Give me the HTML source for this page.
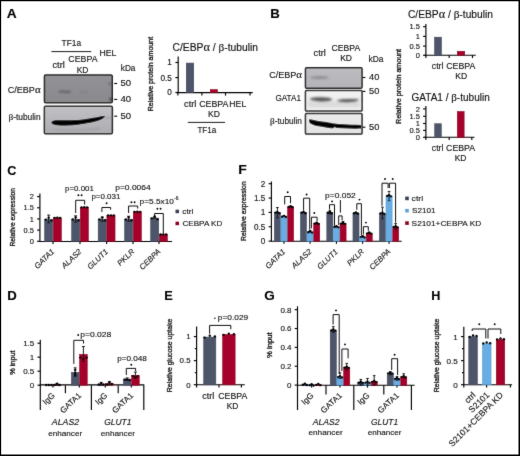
<!DOCTYPE html>
<html><head><meta charset="utf-8"><style>
html,body{margin:0;padding:0;background:#fff;}
svg{display:block;font-family:"Liberation Sans",sans-serif;opacity:0.999;}
text{stroke:#111;stroke-width:0.1px;}
text.yl{stroke-width:0.3px;}
</style></head><body>
<svg width="520" height="456" viewBox="0 0 520 456" fill="#0a0a0a">
<filter id="soft" x="0" y="0" width="520" height="456" filterUnits="userSpaceOnUse"><feConvolveMatrix order="3" kernelMatrix="0.015 0.06 0.015 0.06 0.7 0.06 0.015 0.06 0.015" preserveAlpha="false" edgeMode="none"/></filter>
<rect width="520" height="456" fill="#fff"/>
<g filter="url(#soft)">
<defs>
<filter id="b1" x="-50%" y="-50%" width="200%" height="200%"><feGaussianBlur stdDeviation="1.1"/></filter>
<filter id="b2" x="-20%" y="-50%" width="140%" height="200%"><feGaussianBlur stdDeviation="0.55"/></filter>
<filter id="b3" x="-20%" y="-50%" width="140%" height="200%"><feGaussianBlur stdDeviation="0.8"/></filter>
<linearGradient id="gA1" x1="0" y1="0" x2="0" y2="1"><stop offset="0" stop-color="#929296"/><stop offset="1" stop-color="#8a8a8e"/></linearGradient>
<linearGradient id="gA2" x1="0" y1="0" x2="0" y2="1"><stop offset="0" stop-color="#c1c1c5"/><stop offset="1" stop-color="#adadb1"/></linearGradient>
<linearGradient id="gB1" x1="0" y1="0" x2="0" y2="1"><stop offset="0" stop-color="#bcbcc0"/><stop offset="1" stop-color="#b4b4b8"/></linearGradient>
<linearGradient id="gB2" x1="0" y1="0" x2="0" y2="1"><stop offset="0" stop-color="#f4f4f4"/><stop offset="0.6" stop-color="#ececec"/><stop offset="1" stop-color="#f0f0f0"/></linearGradient>
<linearGradient id="gB3" x1="0" y1="0" x2="0" y2="1"><stop offset="0" stop-color="#ebebeb"/><stop offset="1" stop-color="#e2e2e2"/></linearGradient>
</defs>
<!-- Panel A blot 1 -->
<rect x="44.45" y="74.95" width="67.8" height="27.8" rx="1.3" fill="url(#gA1)" stroke="#262626" stroke-width="1.5"/>
<g filter="url(#b1)">
<ellipse cx="62" cy="91.7" rx="3.5" ry="1.1" fill="#606066"/><ellipse cx="67.5" cy="91.9" rx="3.5" ry="1.1" fill="#5e5e64"/>
<ellipse cx="84" cy="92" rx="5" ry="1" fill="#808084"/>
<ellipse cx="110" cy="83.6" rx="1.6" ry="0.9" fill="#4a4a4e"/>
<ellipse cx="110.8" cy="99.4" rx="1.3" ry="1.2" fill="#222"/>
</g>
<!-- Panel A blot 2 -->
<rect x="44.35" y="106.25" width="68" height="27.6" rx="1.3" fill="url(#gA2)" stroke="#262626" stroke-width="1.5"/>
<g filter="url(#b3)"><path d="M52,128.5 C65,130.5 85,130 100,127.5 L100,129 C85,131 65,131.5 52,129.5 Z" fill="#9a9a9e"/>
<path d="M104,117.4 L112,117.2 L112,118 L104,118.2 Z" fill="#8a8a8e"/></g>
<g filter="url(#b2)">
<path d="M51.5,122.6 C51.6,121.1 53.5,120.5 56,120.3 C59,120.1 63,120.2 66,120.3 C70,120.3 74,120.3 78,120 C82,119.7 85,119.3 88,118.8 C92,118.1 95,117.6 98,117 C100.5,116.5 102.8,116.1 104.9,116 C104.8,117.4 103,118.7 100,119.9 C96.5,121.2 92,122.3 88,123.1 C84,123.8 81,124.3 78,124.7 C74,125.2 70,125.5 66,125.5 C62,125.5 58.5,125.3 55.5,124.9 C53,124.5 51.4,123.9 51.5,122.6 Z" fill="#030303"/>
</g>
<!-- Panel B blots -->
<rect x="305.45" y="67.85" width="56.6" height="20.3" rx="1.1" fill="url(#gB1)" stroke="#262626" stroke-width="1.5"/>
<g filter="url(#b1)"><ellipse cx="319.5" cy="77.6" rx="9.5" ry="1.6" fill="#8e8e94"/></g>
<rect x="305.45" y="90.55" width="56.6" height="20.5" rx="1.1" fill="url(#gB2)" stroke="#262626" stroke-width="1.5"/>
<g filter="url(#b3)"><rect x="308" y="101.5" width="52" height="6" fill="#dcdcdc"/></g>
<g filter="url(#b3)"><path d="M309.5,98.8 C313,97.2 320,97 326,97.6 C329,98 331.5,98.6 332.5,99.6 C331,101.2 326,101.6 320,101.4 C315,101.1 311,100.5 309.5,98.8 Z" fill="#575757"/>
<path d="M336.8,100.4 C341,99 349,98.6 359,99.3 C358,101.5 353,102.3 346,102.2 C341,102 338,101.6 336.8,100.4 Z" fill="#575757"/></g>
<rect x="305.45" y="113.45" width="56.6" height="20.6" rx="1.1" fill="url(#gB3)" stroke="#262626" stroke-width="1.5"/>
<g filter="url(#b2)"><path d="M309,119.5 C311,119.4 313,119.8 317,120.7 C320,121.3 323,121.6 326,121.9 C329,122.4 332,123 334,123.4 C337,123.9 340,124.2 343,124.3 C348,124.6 354,124.8 361,125.1 L361,128.6 C356,128.9 350,128.7 343,128.3 L336.5,128 L334.8,127.1 L333,128.3 C330,128.1 328,127.8 326,127.4 C322,126.8 319,126.4 317,126 C314,125.4 311.5,124.3 310,123.2 C309.2,121.8 308.8,120.6 309,119.5 Z" fill="#040404"/></g>

<text x="6.88" y="18" font-size="12.3" font-weight="bold" textLength="9.93" lengthAdjust="spacingAndGlyphs" fill="#000">A</text>
<text x="61.58" y="46.1" font-size="8.5" textLength="19.45" lengthAdjust="spacingAndGlyphs">TF1a</text>
<line x1="51.4" y1="51.6" x2="91.2" y2="51.6" stroke="#000" stroke-width="0.9"/>
<text x="99.59" y="56" font-size="8.2" textLength="16.82" lengthAdjust="spacingAndGlyphs">HEL</text>
<text x="52.49" y="67.7" font-size="8.2" textLength="12.32" lengthAdjust="spacingAndGlyphs">ctrl</text>
<text x="68.39" y="62.2" font-size="8.2" textLength="29.12" lengthAdjust="spacingAndGlyphs">CEBPA</text>
<text x="76.69" y="72.5" font-size="8.2" textLength="11.72" lengthAdjust="spacingAndGlyphs">KD</text>
<text x="120.79" y="71.2" font-size="8.2" textLength="14.62" lengthAdjust="spacingAndGlyphs">kDa</text>
<text x="7.78" y="93.2" font-size="8.3" textLength="32.83" lengthAdjust="spacingAndGlyphs">C/EBP<tspan font-family="Liberation Serif" font-size="10">α</tspan></text>
<text x="8.48" y="119.5" font-size="8.3" textLength="32.13" lengthAdjust="spacingAndGlyphs"><tspan font-family="Liberation Serif" font-size="9.2">β</tspan>-tubulin</text>
<line x1="114.2" y1="83.5" x2="117.2" y2="83.5" stroke="#000" stroke-width="1.1"/>
<text x="120.49" y="86.4" font-size="8.2" textLength="10.62" lengthAdjust="spacingAndGlyphs">50</text>
<line x1="114.2" y1="99.4" x2="117.2" y2="99.4" stroke="#000" stroke-width="1.1"/>
<text x="120.49" y="102.3" font-size="8.2" textLength="10.62" lengthAdjust="spacingAndGlyphs">40</text>
<line x1="114.2" y1="116.2" x2="117.2" y2="116.2" stroke="#000" stroke-width="1.1"/>
<text x="120.49" y="119.1" font-size="8.2" textLength="10.62" lengthAdjust="spacingAndGlyphs">50</text>
<line x1="178.2" y1="56.4" x2="178.2" y2="92.8" stroke="#000" stroke-width="1.15"/>
<line x1="175.4" y1="62.5" x2="178.2" y2="62.5" stroke="#000" stroke-width="1.15"/>
<text x="171.8" y="65.45" font-size="8.2" text-anchor="end">1</text>
<line x1="175.4" y1="77.6" x2="178.2" y2="77.6" stroke="#000" stroke-width="1.15"/>
<text x="171.8" y="80.55" font-size="8.2" text-anchor="end">0.5</text>
<line x1="175.4" y1="92.5" x2="178.2" y2="92.5" stroke="#000" stroke-width="1.15"/>
<text x="171.8" y="95.45" font-size="8.2" text-anchor="end">0</text>
<line x1="176.5" y1="92.6" x2="252.7" y2="92.6" stroke="#000" stroke-width="1.2"/>
<line x1="177.9" y1="92.6" x2="177.9" y2="95.6" stroke="#000" stroke-width="1.15"/>
<line x1="201.9" y1="92.6" x2="201.9" y2="95.6" stroke="#000" stroke-width="1.15"/>
<line x1="225.5" y1="92.6" x2="225.5" y2="95.6" stroke="#000" stroke-width="1.15"/>
<line x1="250" y1="92.6" x2="250" y2="95.6" stroke="#000" stroke-width="1.15"/>
<rect x="186.25" y="63.05" width="7.5" height="29.55" fill="#4d556a" stroke="#3c4355" stroke-width="0.5"/>
<rect x="210.25" y="89.55" width="7.3" height="3.05" fill="#a6032c" stroke="#85001f" stroke-width="0.5"/>
<text x="184.09" y="106.5" font-size="8.2" textLength="12.32" lengthAdjust="spacingAndGlyphs">ctrl</text>
<text x="199.19" y="106.5" font-size="8.2" textLength="29.22" lengthAdjust="spacingAndGlyphs">CEBPA</text>
<text x="229.39" y="106.5" font-size="8.2" textLength="16.82" lengthAdjust="spacingAndGlyphs">HEL</text>
<text x="208.09" y="116.8" font-size="8.2" textLength="11.92" lengthAdjust="spacingAndGlyphs">KD</text>
<line x1="187.8" y1="122.4" x2="225" y2="122.4" stroke="#000" stroke-width="0.9"/>
<text x="197.38" y="132.7" font-size="8.5" textLength="18.85" lengthAdjust="spacingAndGlyphs">TF1a</text>
<text x="172.6" y="50.8" font-size="10" textLength="85.4" lengthAdjust="spacingAndGlyphs">C/EBP<tspan font-family="Liberation Serif" font-size="12">α</tspan> / <tspan font-family="Liberation Serif" font-size="11">β</tspan>-tubulin</text>
<text x="153.1" y="74.1" font-size="7.4" text-anchor="middle" transform="rotate(-90 153.1 74.1)" textLength="74.4" lengthAdjust="spacingAndGlyphs" class="yl">Relative protein amount</text>
<text x="270.28" y="17.8" font-size="12.3" font-weight="bold" textLength="9.53" lengthAdjust="spacingAndGlyphs" fill="#000">B</text>
<text x="313.59" y="56" font-size="8.2" textLength="12.22" lengthAdjust="spacingAndGlyphs">ctrl</text>
<text x="331.59" y="51.1" font-size="8.2" textLength="28.62" lengthAdjust="spacingAndGlyphs">CEBPA</text>
<text x="340.19" y="60.9" font-size="8.2" textLength="11.82" lengthAdjust="spacingAndGlyphs">KD</text>
<text x="368.59" y="62.2" font-size="8.2" textLength="14.92" lengthAdjust="spacingAndGlyphs">kDa</text>
<text x="269.19" y="77.6" font-size="8.3" textLength="32.83" lengthAdjust="spacingAndGlyphs">C/EBP<tspan font-family="Liberation Serif" font-size="10">α</tspan></text>
<text x="275.38" y="100.6" font-size="8.3" textLength="25.63" lengthAdjust="spacingAndGlyphs">GATA1</text>
<text x="269.98" y="124.1" font-size="8.3" textLength="32.03" lengthAdjust="spacingAndGlyphs"><tspan font-family="Liberation Serif" font-size="9.2">β</tspan>-tubulin</text>
<line x1="362.6" y1="77.5" x2="365.4" y2="77.5" stroke="#000" stroke-width="1.1"/>
<text x="368.99" y="80.4" font-size="8.2" textLength="10.32" lengthAdjust="spacingAndGlyphs">40</text>
<line x1="362.6" y1="91.4" x2="365.4" y2="91.4" stroke="#000" stroke-width="1.1"/>
<text x="368.99" y="94.3" font-size="8.2" textLength="10.32" lengthAdjust="spacingAndGlyphs">50</text>
<line x1="362.6" y1="127.2" x2="365.4" y2="127.2" stroke="#000" stroke-width="1.1"/>
<text x="368.99" y="130.1" font-size="8.2" textLength="10.32" lengthAdjust="spacingAndGlyphs">50</text>
<text x="407.9" y="18.2" font-size="10" textLength="85.1" lengthAdjust="spacingAndGlyphs">C/EBP<tspan font-family="Liberation Serif" font-size="12">α</tspan> / <tspan font-family="Liberation Serif" font-size="11">β</tspan>-tubulin</text>
<line x1="425.9" y1="24.1" x2="425.9" y2="55.5" stroke="#000" stroke-width="1.15"/>
<line x1="423.1" y1="26.7" x2="425.9" y2="26.7" stroke="#000" stroke-width="1.15"/>
<text x="419.9" y="29.4" font-size="7.5" text-anchor="end">1.5</text>
<line x1="423.1" y1="36.4" x2="425.9" y2="36.4" stroke="#000" stroke-width="1.15"/>
<text x="419.9" y="39.1" font-size="7.5" text-anchor="end">1</text>
<line x1="423.1" y1="46.1" x2="425.9" y2="46.1" stroke="#000" stroke-width="1.15"/>
<text x="419.9" y="48.8" font-size="7.5" text-anchor="end">0.5</text>
<line x1="423.1" y1="55.3" x2="425.9" y2="55.3" stroke="#000" stroke-width="1.15"/>
<text x="419.9" y="58" font-size="7.5" text-anchor="end">0</text>
<line x1="424.5" y1="55.3" x2="475.8" y2="55.3" stroke="#000" stroke-width="1.1"/>
<line x1="425.9" y1="55.3" x2="425.9" y2="58" stroke="#000" stroke-width="1.15"/>
<line x1="449.2" y1="55.3" x2="449.2" y2="58" stroke="#000" stroke-width="1.15"/>
<line x1="472.5" y1="55.3" x2="472.5" y2="58" stroke="#000" stroke-width="1.15"/>
<rect x="434.45" y="37.15" width="7.1" height="18.15" fill="#4d556a" stroke="#3c4355" stroke-width="0.5"/>
<rect x="457.25" y="51.25" width="7.5" height="4.05" fill="#a6032c" stroke="#85001f" stroke-width="0.5"/>
<text x="431.79" y="69.3" font-size="8.2" textLength="11.62" lengthAdjust="spacingAndGlyphs">ctrl</text>
<text x="446.29" y="69.3" font-size="8.2" textLength="29.12" lengthAdjust="spacingAndGlyphs">CEBPA</text>
<text x="455.19" y="79" font-size="8.2" textLength="11.92" lengthAdjust="spacingAndGlyphs">KD</text>
<text x="411.5" y="101" font-size="10" textLength="78.3" lengthAdjust="spacingAndGlyphs">GATA1 / <tspan font-family="Liberation Serif" font-size="11">β</tspan>-tubulin</text>
<line x1="425.9" y1="106.1" x2="425.9" y2="137.5" stroke="#000" stroke-width="1.15"/>
<line x1="423.1" y1="108.9" x2="425.9" y2="108.9" stroke="#000" stroke-width="1.15"/>
<text x="419.9" y="111.6" font-size="7.5" text-anchor="end">2</text>
<line x1="423.1" y1="116.3" x2="425.9" y2="116.3" stroke="#000" stroke-width="1.15"/>
<text x="419.9" y="119" font-size="7.5" text-anchor="end">1.5</text>
<line x1="423.1" y1="123.5" x2="425.9" y2="123.5" stroke="#000" stroke-width="1.15"/>
<text x="419.9" y="126.2" font-size="7.5" text-anchor="end">1</text>
<line x1="423.1" y1="130.4" x2="425.9" y2="130.4" stroke="#000" stroke-width="1.15"/>
<text x="419.9" y="133.1" font-size="7.5" text-anchor="end">0.5</text>
<line x1="423.1" y1="137.3" x2="425.9" y2="137.3" stroke="#000" stroke-width="1.15"/>
<text x="419.9" y="140" font-size="7.5" text-anchor="end">0</text>
<line x1="424.5" y1="137.3" x2="474.5" y2="137.3" stroke="#000" stroke-width="1.1"/>
<line x1="425.9" y1="137.3" x2="425.9" y2="140" stroke="#000" stroke-width="1.15"/>
<line x1="449.2" y1="137.3" x2="449.2" y2="140" stroke="#000" stroke-width="1.15"/>
<line x1="471.8" y1="137.3" x2="471.8" y2="140" stroke="#000" stroke-width="1.15"/>
<rect x="434.65" y="123.75" width="6.7" height="13.55" fill="#4d556a" stroke="#3c4355" stroke-width="0.5"/>
<rect x="457.25" y="111.45" width="6.9" height="25.85" fill="#a6032c" stroke="#85001f" stroke-width="0.5"/>
<text x="431.79" y="151.3" font-size="8.2" textLength="11.62" lengthAdjust="spacingAndGlyphs">ctrl</text>
<text x="446.09" y="151.3" font-size="8.2" textLength="29.02" lengthAdjust="spacingAndGlyphs">CEBPA</text>
<text x="454.69" y="161" font-size="8.2" textLength="11.72" lengthAdjust="spacingAndGlyphs">KD</text>
<text x="400.6" y="86.4" font-size="7.4" text-anchor="middle" transform="rotate(-90 400.6 86.4)" textLength="75" lengthAdjust="spacingAndGlyphs" class="yl">Relative protein amount</text>
<text x="7.29" y="174.8" font-size="12.3" font-weight="bold" textLength="9.13" lengthAdjust="spacingAndGlyphs" fill="#000">C</text>
<line x1="39.9" y1="193.5" x2="39.9" y2="241.6" stroke="#000" stroke-width="1.15"/>
<line x1="37.1" y1="241.3" x2="39.9" y2="241.3" stroke="#000" stroke-width="1.15"/>
<text x="33.9" y="243.96" font-size="7.4" text-anchor="end">0</text>
<line x1="37.1" y1="230.12" x2="39.9" y2="230.12" stroke="#000" stroke-width="1.15"/>
<text x="33.9" y="232.79" font-size="7.4" text-anchor="end">0.5</text>
<line x1="37.1" y1="218.95" x2="39.9" y2="218.95" stroke="#000" stroke-width="1.15"/>
<text x="33.9" y="221.61" font-size="7.4" text-anchor="end">1</text>
<line x1="37.1" y1="207.78" x2="39.9" y2="207.78" stroke="#000" stroke-width="1.15"/>
<text x="33.9" y="210.44" font-size="7.4" text-anchor="end">1.5</text>
<line x1="37.1" y1="196.6" x2="39.9" y2="196.6" stroke="#000" stroke-width="1.15"/>
<text x="33.9" y="199.26" font-size="7.4" text-anchor="end">2</text>
<line x1="39.5" y1="241.5" x2="172" y2="241.5" stroke="#000" stroke-width="1.1"/>
<text x="15.4" y="217.3" font-size="8.1" text-anchor="middle" transform="rotate(-90 15.4 217.3)" textLength="58.5" lengthAdjust="spacingAndGlyphs" class="yl">Relative expression</text>
<rect x="44.55" y="219.42" width="8.2" height="22.08" fill="#4d556a" stroke="#3c4355" stroke-width="0.5"/>
<rect x="53.25" y="217.86" width="8.2" height="23.64" fill="#a6032c" stroke="#85001f" stroke-width="0.5"/>
<line x1="48.65" y1="215.15" x2="48.65" y2="222.75" stroke="#111" stroke-width="0.95"/>
<line x1="47.15" y1="215.15" x2="50.15" y2="215.15" stroke="#111" stroke-width="0.95"/>
<line x1="47.15" y1="222.75" x2="50.15" y2="222.75" stroke="#111" stroke-width="0.95"/>
<circle cx="45.85" cy="219.67" r="1.2" fill="#000"/>
<circle cx="48.65" cy="217.67" r="1.2" fill="#000"/>
<circle cx="51.45" cy="220.67" r="1.2" fill="#000"/>
<circle cx="54.55" cy="217.91" r="1.2" fill="#000"/>
<circle cx="57.35" cy="217.81" r="1.2" fill="#000"/>
<circle cx="60.15" cy="217.91" r="1.2" fill="#000"/>
<line x1="53" y1="241.5" x2="53" y2="244" stroke="#000" stroke-width="1.15"/>
<text x="55" y="252.2" font-size="7.8" text-anchor="end" font-style="italic" transform="rotate(-44 55 252.2)">GATA1</text>
<rect x="71.55" y="219.2" width="8.2" height="22.3" fill="#4d556a" stroke="#3c4355" stroke-width="0.5"/>
<rect x="80.25" y="207.35" width="8.2" height="34.15" fill="#a6032c" stroke="#85001f" stroke-width="0.5"/>
<line x1="75.65" y1="215.82" x2="75.65" y2="222.08" stroke="#111" stroke-width="0.95"/>
<line x1="74.15" y1="215.82" x2="77.15" y2="215.82" stroke="#111" stroke-width="0.95"/>
<line x1="74.15" y1="222.08" x2="77.15" y2="222.08" stroke="#111" stroke-width="0.95"/>
<circle cx="72.85" cy="219.45" r="1.2" fill="#000"/>
<circle cx="75.65" cy="217.45" r="1.2" fill="#000"/>
<circle cx="78.45" cy="220.45" r="1.2" fill="#000"/>
<circle cx="81.55" cy="207.4" r="1.2" fill="#000"/>
<circle cx="84.35" cy="207.3" r="1.2" fill="#000"/>
<circle cx="87.15" cy="207.4" r="1.2" fill="#000"/>
<line x1="80" y1="241.5" x2="80" y2="244" stroke="#000" stroke-width="1.15"/>
<text x="82" y="252.2" font-size="7.8" text-anchor="end" font-style="italic" transform="rotate(-44 82 252.2)">ALAS2</text>
<rect x="98.15" y="219.2" width="8.2" height="22.3" fill="#4d556a" stroke="#3c4355" stroke-width="0.5"/>
<rect x="106.85" y="215.4" width="8.2" height="26.1" fill="#a6032c" stroke="#85001f" stroke-width="0.5"/>
<line x1="102.25" y1="217.16" x2="102.25" y2="221.19" stroke="#111" stroke-width="0.95"/>
<line x1="100.75" y1="217.16" x2="103.75" y2="217.16" stroke="#111" stroke-width="0.95"/>
<line x1="100.75" y1="221.19" x2="103.75" y2="221.19" stroke="#111" stroke-width="0.95"/>
<circle cx="99.45" cy="219.45" r="1.2" fill="#000"/>
<circle cx="102.25" cy="217.45" r="1.2" fill="#000"/>
<circle cx="105.05" cy="220.45" r="1.2" fill="#000"/>
<circle cx="108.15" cy="215.45" r="1.2" fill="#000"/>
<circle cx="110.95" cy="215.35" r="1.2" fill="#000"/>
<circle cx="113.75" cy="215.45" r="1.2" fill="#000"/>
<line x1="106.6" y1="241.5" x2="106.6" y2="244" stroke="#000" stroke-width="1.15"/>
<text x="108.6" y="252.2" font-size="7.8" text-anchor="end" font-style="italic" transform="rotate(-44 108.6 252.2)">GLUT1</text>
<rect x="124.55" y="219.2" width="8.2" height="22.3" fill="#4d556a" stroke="#3c4355" stroke-width="0.5"/>
<rect x="133.25" y="211.82" width="8.2" height="29.68" fill="#a6032c" stroke="#85001f" stroke-width="0.5"/>
<line x1="128.65" y1="216.27" x2="128.65" y2="221.19" stroke="#111" stroke-width="0.95"/>
<line x1="127.15" y1="216.27" x2="130.15" y2="216.27" stroke="#111" stroke-width="0.95"/>
<line x1="127.15" y1="221.19" x2="130.15" y2="221.19" stroke="#111" stroke-width="0.95"/>
<circle cx="125.85" cy="219.45" r="1.2" fill="#000"/>
<circle cx="128.65" cy="217.45" r="1.2" fill="#000"/>
<circle cx="131.45" cy="220.45" r="1.2" fill="#000"/>
<circle cx="134.55" cy="211.87" r="1.2" fill="#000"/>
<circle cx="137.35" cy="211.77" r="1.2" fill="#000"/>
<circle cx="140.15" cy="211.87" r="1.2" fill="#000"/>
<line x1="133" y1="241.5" x2="133" y2="244" stroke="#000" stroke-width="1.15"/>
<text x="135" y="252.2" font-size="7.8" text-anchor="end" font-style="italic" transform="rotate(-44 135 252.2)">PKLR</text>
<rect x="150.55" y="218.08" width="8.2" height="23.42" fill="#4d556a" stroke="#3c4355" stroke-width="0.5"/>
<rect x="159.25" y="234.4" width="8.2" height="7.1" fill="#a6032c" stroke="#85001f" stroke-width="0.5"/>
<line x1="154.65" y1="217.39" x2="154.65" y2="218.28" stroke="#111" stroke-width="0.95"/>
<line x1="153.15" y1="217.39" x2="156.15" y2="217.39" stroke="#111" stroke-width="0.95"/>
<line x1="153.15" y1="218.28" x2="156.15" y2="218.28" stroke="#111" stroke-width="0.95"/>
<circle cx="151.85" cy="218.33" r="1.2" fill="#000"/>
<circle cx="154.65" cy="216.33" r="1.2" fill="#000"/>
<circle cx="157.45" cy="219.33" r="1.2" fill="#000"/>
<circle cx="160.55" cy="234.45" r="1.2" fill="#000"/>
<circle cx="163.35" cy="234.35" r="1.2" fill="#000"/>
<circle cx="166.15" cy="234.45" r="1.2" fill="#000"/>
<line x1="159" y1="241.5" x2="159" y2="244" stroke="#000" stroke-width="1.15"/>
<text x="161" y="252.2" font-size="7.8" text-anchor="end" font-style="italic" transform="rotate(-44 161 252.2)">CEBPA</text>
<text x="65.1" y="191.3" font-size="8" textLength="28.8" lengthAdjust="spacingAndGlyphs">p=0.001</text>
<circle cx="78.4" cy="195.3" r="0.95" fill="#000"/>
<circle cx="81.6" cy="195.3" r="0.95" fill="#000"/>
<path d="M75.7,213 V200.3 H84.6 V204.6" stroke="#000" stroke-width="0.95" fill="none"/>
<text x="91.4" y="199.4" font-size="8" textLength="29" lengthAdjust="spacingAndGlyphs">p=0.031</text>
<circle cx="106.6" cy="203.3" r="0.95" fill="#000"/>
<path d="M101.9,212 V207.5 H110.6 V209.7" stroke="#000" stroke-width="0.95" fill="none"/>
<text x="115.2" y="190.1" font-size="8" textLength="35.5" lengthAdjust="spacingAndGlyphs">p=0.0064</text>
<circle cx="131.4" cy="202.3" r="0.95" fill="#000"/>
<circle cx="134.6" cy="202.3" r="0.95" fill="#000"/>
<path d="M128.6,213 V206 H137.7 V208.5" stroke="#000" stroke-width="0.95" fill="none"/>
<text x="139.6" y="203.7" font-size="8" textLength="34.3" lengthAdjust="spacingAndGlyphs">p=5.5x10</text>
<text x="174" y="200.4" font-size="5">-6</text>
<circle cx="157.4" cy="208.8" r="0.95" fill="#000"/>
<circle cx="160.6" cy="208.8" r="0.95" fill="#000"/>
<path d="M154.6,216.5 V213.5 H163.3 V233.5" stroke="#000" stroke-width="0.95" fill="none"/>
<rect x="175.5" y="209.7" width="3.5" height="3.5" fill="#3a4152"/>
<rect x="175.5" y="221.7" width="3.5" height="3.5" fill="#8e0022"/>
<text x="182.21" y="213.8" font-size="7.8" textLength="11.18" lengthAdjust="spacingAndGlyphs">ctrl</text>
<text x="182.51" y="225.7" font-size="7.8" textLength="39.78" lengthAdjust="spacingAndGlyphs">CEBPA KD</text>
<text x="238.28" y="174.2" font-size="12.3" font-weight="bold" textLength="8.53" lengthAdjust="spacingAndGlyphs" fill="#000">F</text>
<line x1="271.4" y1="181.5" x2="271.4" y2="241.3" stroke="#000" stroke-width="1.15"/>
<line x1="268.6" y1="241.1" x2="271.4" y2="241.1" stroke="#000" stroke-width="1.15"/>
<text x="265.4" y="244.05" font-size="8.2" text-anchor="end">0</text>
<line x1="268.6" y1="226.75" x2="271.4" y2="226.75" stroke="#000" stroke-width="1.15"/>
<text x="265.4" y="229.7" font-size="8.2" text-anchor="end">0.5</text>
<line x1="268.6" y1="212.4" x2="271.4" y2="212.4" stroke="#000" stroke-width="1.15"/>
<text x="265.4" y="215.35" font-size="8.2" text-anchor="end">1</text>
<line x1="268.6" y1="198.05" x2="271.4" y2="198.05" stroke="#000" stroke-width="1.15"/>
<text x="265.4" y="201" font-size="8.2" text-anchor="end">1.5</text>
<line x1="268.6" y1="183.7" x2="271.4" y2="183.7" stroke="#000" stroke-width="1.15"/>
<text x="265.4" y="186.65" font-size="8.2" text-anchor="end">2</text>
<line x1="271" y1="241.2" x2="401.7" y2="241.2" stroke="#000" stroke-width="1.1"/>
<text x="246.2" y="211.1" font-size="8.1" text-anchor="middle" transform="rotate(-90 246.2 211.1)" textLength="59.6" lengthAdjust="spacingAndGlyphs" class="yl">Relative expression</text>
<rect x="274.35" y="212.65" width="6.1" height="28.55" fill="#4d556a" stroke="#3c4355" stroke-width="0.5"/>
<rect x="280.95" y="216.67" width="6.1" height="24.53" fill="#68ade3" stroke="#4f93c8" stroke-width="0.5"/>
<rect x="287.55" y="206.91" width="6.1" height="34.29" fill="#a6032c" stroke="#85001f" stroke-width="0.5"/>
<line x1="277.4" y1="207.52" x2="277.4" y2="217.85" stroke="#111" stroke-width="0.95"/>
<line x1="276.1" y1="207.52" x2="278.7" y2="207.52" stroke="#111" stroke-width="0.95"/>
<line x1="276.1" y1="217.85" x2="278.7" y2="217.85" stroke="#111" stroke-width="0.95"/>
<line x1="284" y1="215.84" x2="284" y2="216.7" stroke="#111" stroke-width="0.95"/>
<line x1="282.7" y1="215.84" x2="285.3" y2="215.84" stroke="#111" stroke-width="0.95"/>
<line x1="282.7" y1="216.7" x2="285.3" y2="216.7" stroke="#111" stroke-width="0.95"/>
<line x1="290.6" y1="206.37" x2="290.6" y2="206.95" stroke="#111" stroke-width="0.95"/>
<line x1="289.3" y1="206.37" x2="291.9" y2="206.37" stroke="#111" stroke-width="0.95"/>
<line x1="289.3" y1="206.95" x2="291.9" y2="206.95" stroke="#111" stroke-width="0.95"/>
<circle cx="275.5" cy="212.7" r="1.2" fill="#000"/>
<circle cx="277.4" cy="211.9" r="1.2" fill="#000"/>
<circle cx="279.3" cy="213.2" r="1.2" fill="#000"/>
<circle cx="282.1" cy="216.72" r="1.2" fill="#000"/>
<circle cx="284" cy="215.92" r="1.2" fill="#000"/>
<circle cx="285.9" cy="217.02" r="1.2" fill="#000"/>
<circle cx="288.7" cy="206.96" r="1.2" fill="#000"/>
<circle cx="290.6" cy="206.16" r="1.2" fill="#000"/>
<circle cx="292.5" cy="207.26" r="1.2" fill="#000"/>
<line x1="284" y1="241.2" x2="284" y2="243.8" stroke="#000" stroke-width="1.15"/>
<text x="286" y="252.2" font-size="7.8" text-anchor="end" font-style="italic" transform="rotate(-44 286 252.2)">GATA1</text>
<rect x="300.45" y="212.65" width="6.1" height="28.55" fill="#4d556a" stroke="#3c4355" stroke-width="0.5"/>
<rect x="307.05" y="232.17" width="6.1" height="9.03" fill="#68ade3" stroke="#4f93c8" stroke-width="0.5"/>
<rect x="313.65" y="223.56" width="6.1" height="17.64" fill="#a6032c" stroke="#85001f" stroke-width="0.5"/>
<line x1="303.5" y1="212.11" x2="303.5" y2="212.69" stroke="#111" stroke-width="0.95"/>
<line x1="302.2" y1="212.11" x2="304.8" y2="212.11" stroke="#111" stroke-width="0.95"/>
<line x1="302.2" y1="212.69" x2="304.8" y2="212.69" stroke="#111" stroke-width="0.95"/>
<line x1="310.1" y1="230.48" x2="310.1" y2="232.49" stroke="#111" stroke-width="0.95"/>
<line x1="308.8" y1="230.48" x2="311.4" y2="230.48" stroke="#111" stroke-width="0.95"/>
<line x1="308.8" y1="232.49" x2="311.4" y2="232.49" stroke="#111" stroke-width="0.95"/>
<line x1="316.7" y1="222.73" x2="316.7" y2="223.88" stroke="#111" stroke-width="0.95"/>
<line x1="315.4" y1="222.73" x2="318" y2="222.73" stroke="#111" stroke-width="0.95"/>
<line x1="315.4" y1="223.88" x2="318" y2="223.88" stroke="#111" stroke-width="0.95"/>
<circle cx="301.6" cy="212.7" r="1.2" fill="#000"/>
<circle cx="303.5" cy="211.9" r="1.2" fill="#000"/>
<circle cx="305.4" cy="213.2" r="1.2" fill="#000"/>
<circle cx="308.2" cy="232.22" r="1.2" fill="#000"/>
<circle cx="310.1" cy="231.42" r="1.2" fill="#000"/>
<circle cx="312" cy="232.52" r="1.2" fill="#000"/>
<circle cx="314.8" cy="223.61" r="1.2" fill="#000"/>
<circle cx="316.7" cy="222.81" r="1.2" fill="#000"/>
<circle cx="318.6" cy="223.91" r="1.2" fill="#000"/>
<line x1="310.1" y1="241.2" x2="310.1" y2="243.8" stroke="#000" stroke-width="1.15"/>
<text x="312.1" y="252.2" font-size="7.8" text-anchor="end" font-style="italic" transform="rotate(-44 312.1 252.2)">ALAS2</text>
<rect x="326.8" y="212.65" width="6.1" height="28.55" fill="#4d556a" stroke="#3c4355" stroke-width="0.5"/>
<rect x="333.4" y="227" width="6.1" height="14.2" fill="#68ade3" stroke="#4f93c8" stroke-width="0.5"/>
<rect x="340" y="223.56" width="6.1" height="17.64" fill="#a6032c" stroke="#85001f" stroke-width="0.5"/>
<line x1="329.85" y1="210.68" x2="329.85" y2="213.84" stroke="#111" stroke-width="0.95"/>
<line x1="328.55" y1="210.68" x2="331.15" y2="210.68" stroke="#111" stroke-width="0.95"/>
<line x1="328.55" y1="213.84" x2="331.15" y2="213.84" stroke="#111" stroke-width="0.95"/>
<line x1="336.45" y1="226.46" x2="336.45" y2="227.04" stroke="#111" stroke-width="0.95"/>
<line x1="335.15" y1="226.46" x2="337.75" y2="226.46" stroke="#111" stroke-width="0.95"/>
<line x1="335.15" y1="227.04" x2="337.75" y2="227.04" stroke="#111" stroke-width="0.95"/>
<line x1="343.05" y1="221.58" x2="343.05" y2="224.45" stroke="#111" stroke-width="0.95"/>
<line x1="341.75" y1="221.58" x2="344.35" y2="221.58" stroke="#111" stroke-width="0.95"/>
<line x1="341.75" y1="224.45" x2="344.35" y2="224.45" stroke="#111" stroke-width="0.95"/>
<circle cx="327.95" cy="212.7" r="1.2" fill="#000"/>
<circle cx="329.85" cy="211.9" r="1.2" fill="#000"/>
<circle cx="331.75" cy="213.2" r="1.2" fill="#000"/>
<circle cx="334.55" cy="227.05" r="1.2" fill="#000"/>
<circle cx="336.45" cy="226.25" r="1.2" fill="#000"/>
<circle cx="338.35" cy="227.35" r="1.2" fill="#000"/>
<circle cx="341.15" cy="223.61" r="1.2" fill="#000"/>
<circle cx="343.05" cy="222.81" r="1.2" fill="#000"/>
<circle cx="344.95" cy="223.91" r="1.2" fill="#000"/>
<line x1="336.45" y1="241.2" x2="336.45" y2="243.8" stroke="#000" stroke-width="1.15"/>
<text x="338.45" y="252.2" font-size="7.8" text-anchor="end" font-style="italic" transform="rotate(-44 338.45 252.2)">GLUT1</text>
<rect x="352.95" y="213.22" width="6.1" height="27.98" fill="#4d556a" stroke="#3c4355" stroke-width="0.5"/>
<rect x="359.55" y="237.04" width="6.1" height="4.16" fill="#68ade3" stroke="#4f93c8" stroke-width="0.5"/>
<rect x="366.15" y="233.31" width="6.1" height="7.89" fill="#a6032c" stroke="#85001f" stroke-width="0.5"/>
<line x1="356" y1="212.69" x2="356" y2="213.26" stroke="#111" stroke-width="0.95"/>
<line x1="354.7" y1="212.69" x2="357.3" y2="212.69" stroke="#111" stroke-width="0.95"/>
<line x1="354.7" y1="213.26" x2="357.3" y2="213.26" stroke="#111" stroke-width="0.95"/>
<line x1="362.6" y1="236.22" x2="362.6" y2="237.37" stroke="#111" stroke-width="0.95"/>
<line x1="361.3" y1="236.22" x2="363.9" y2="236.22" stroke="#111" stroke-width="0.95"/>
<line x1="361.3" y1="237.37" x2="363.9" y2="237.37" stroke="#111" stroke-width="0.95"/>
<line x1="369.2" y1="232.78" x2="369.2" y2="233.35" stroke="#111" stroke-width="0.95"/>
<line x1="367.9" y1="232.78" x2="370.5" y2="232.78" stroke="#111" stroke-width="0.95"/>
<line x1="367.9" y1="233.35" x2="370.5" y2="233.35" stroke="#111" stroke-width="0.95"/>
<circle cx="354.1" cy="213.27" r="1.2" fill="#000"/>
<circle cx="356" cy="212.47" r="1.2" fill="#000"/>
<circle cx="357.9" cy="213.77" r="1.2" fill="#000"/>
<circle cx="360.7" cy="237.09" r="1.2" fill="#000"/>
<circle cx="362.6" cy="236.29" r="1.2" fill="#000"/>
<circle cx="364.5" cy="237.39" r="1.2" fill="#000"/>
<circle cx="367.3" cy="233.36" r="1.2" fill="#000"/>
<circle cx="369.2" cy="232.56" r="1.2" fill="#000"/>
<circle cx="371.1" cy="233.66" r="1.2" fill="#000"/>
<line x1="362.6" y1="241.2" x2="362.6" y2="243.8" stroke="#000" stroke-width="1.15"/>
<text x="364.6" y="252.2" font-size="7.8" text-anchor="end" font-style="italic" transform="rotate(-44 364.6 252.2)">PKLR</text>
<rect x="379.4" y="213.51" width="6.1" height="27.69" fill="#4d556a" stroke="#3c4355" stroke-width="0.5"/>
<rect x="386" y="196" width="6.1" height="45.2" fill="#68ade3" stroke="#4f93c8" stroke-width="0.5"/>
<rect x="392.6" y="227" width="6.1" height="14.2" fill="#a6032c" stroke="#85001f" stroke-width="0.5"/>
<line x1="382.45" y1="207.23" x2="382.45" y2="218.71" stroke="#111" stroke-width="0.95"/>
<line x1="381.15" y1="207.23" x2="383.75" y2="207.23" stroke="#111" stroke-width="0.95"/>
<line x1="381.15" y1="218.71" x2="383.75" y2="218.71" stroke="#111" stroke-width="0.95"/>
<line x1="389.05" y1="191.45" x2="389.05" y2="200.63" stroke="#111" stroke-width="0.95"/>
<line x1="387.75" y1="191.45" x2="390.35" y2="191.45" stroke="#111" stroke-width="0.95"/>
<line x1="387.75" y1="200.63" x2="390.35" y2="200.63" stroke="#111" stroke-width="0.95"/>
<line x1="395.65" y1="223.59" x2="395.65" y2="229.62" stroke="#111" stroke-width="0.95"/>
<line x1="394.35" y1="223.59" x2="396.95" y2="223.59" stroke="#111" stroke-width="0.95"/>
<line x1="394.35" y1="229.62" x2="396.95" y2="229.62" stroke="#111" stroke-width="0.95"/>
<circle cx="380.55" cy="213.56" r="1.2" fill="#000"/>
<circle cx="382.45" cy="212.76" r="1.2" fill="#000"/>
<circle cx="384.35" cy="214.06" r="1.2" fill="#000"/>
<circle cx="387.15" cy="196.05" r="1.2" fill="#000"/>
<circle cx="389.05" cy="195.25" r="1.2" fill="#000"/>
<circle cx="390.95" cy="196.35" r="1.2" fill="#000"/>
<circle cx="393.75" cy="227.05" r="1.2" fill="#000"/>
<circle cx="395.65" cy="226.25" r="1.2" fill="#000"/>
<circle cx="397.55" cy="227.35" r="1.2" fill="#000"/>
<line x1="389.05" y1="241.2" x2="389.05" y2="243.8" stroke="#000" stroke-width="1.15"/>
<text x="391.05" y="252.2" font-size="7.8" text-anchor="end" font-style="italic" transform="rotate(-44 391.05 252.2)">CEBPA</text>
<path d="M284.7,204.4 V196.5 H290.5 V203.2" stroke="#000" stroke-width="0.95" fill="none"/>
<circle cx="287.7" cy="192.3" r="0.95" fill="#000"/>
<path d="M303.6,210.7 V198.2 H309.7 V229.7" stroke="#000" stroke-width="0.95" fill="none"/>
<circle cx="306.6" cy="194.5" r="0.95" fill="#000"/>
<path d="M311.4,228.4 V217.2 H317.1 V221.2" stroke="#000" stroke-width="0.95" fill="none"/>
<circle cx="314.3" cy="213" r="0.95" fill="#000"/>
<path d="M329.5,209.5 V204.7 H334.5 V225.8" stroke="#000" stroke-width="0.95" fill="none"/>
<circle cx="332.1" cy="201.4" r="0.95" fill="#000"/>
<path d="M340.4,200.1 V212.6" stroke="#000" stroke-width="0.95" fill="none"/>
<path d="M338.7,225 V215.9 H342.1 V220.5" stroke="#000" stroke-width="0.95" fill="none"/>
<text x="325.1" y="198.2" font-size="8" textLength="30.7" lengthAdjust="spacingAndGlyphs">p=0.052</text>
<path d="M356.8,209.8 V203.7 H361.4 V235.3" stroke="#000" stroke-width="0.95" fill="none"/>
<circle cx="359.5" cy="199.6" r="0.95" fill="#000"/>
<path d="M363.4,234.5 V226.7 H368.3 V230.8" stroke="#000" stroke-width="0.95" fill="none"/>
<circle cx="365.9" cy="222.6" r="0.95" fill="#000"/>
<path d="M382,205.8 V183.2 H388.1 V188.1" stroke="#000" stroke-width="0.95" fill="none"/>
<circle cx="385" cy="179" r="0.95" fill="#000"/>
<path d="M389.4,188.1 V183.2 H395.6 V222.6" stroke="#000" stroke-width="0.95" fill="none"/>
<circle cx="392.7" cy="179" r="0.95" fill="#000"/>
<rect x="405.2" y="196.6" width="3.6" height="3.6" fill="#3a4152"/>
<text x="411.61" y="201" font-size="7.8" textLength="11.48" lengthAdjust="spacingAndGlyphs">ctrl</text>
<rect x="405.2" y="208.9" width="3.6" height="3.6" fill="#5ba2dc"/>
<text x="412.11" y="213.1" font-size="7.8" textLength="23.38" lengthAdjust="spacingAndGlyphs">S2101</text>
<rect x="405.2" y="221.3" width="3.6" height="3.6" fill="#8e0022"/>
<text x="411.61" y="225.9" font-size="7.8" textLength="69.58" lengthAdjust="spacingAndGlyphs">S2101+CEBPA KD</text>
<text x="7.29" y="300.1" font-size="12.3" font-weight="bold" textLength="9.53" lengthAdjust="spacingAndGlyphs" fill="#000">D</text>
<line x1="40.3" y1="339.7" x2="40.3" y2="410.1" stroke="#000" stroke-width="1.15"/>
<line x1="37.5" y1="385.2" x2="40.3" y2="385.2" stroke="#000" stroke-width="1.15"/>
<text x="34.3" y="388.08" font-size="8" text-anchor="end">0</text>
<line x1="37.5" y1="371.2" x2="40.3" y2="371.2" stroke="#000" stroke-width="1.15"/>
<text x="34.3" y="374.08" font-size="8" text-anchor="end">0.5</text>
<line x1="37.5" y1="357.2" x2="40.3" y2="357.2" stroke="#000" stroke-width="1.15"/>
<text x="34.3" y="360.08" font-size="8" text-anchor="end">1</text>
<line x1="37.5" y1="343.2" x2="40.3" y2="343.2" stroke="#000" stroke-width="1.15"/>
<text x="34.3" y="346.08" font-size="8" text-anchor="end">1.5</text>
<line x1="39.7" y1="384.9" x2="144.3" y2="384.9" stroke="#000" stroke-width="1.2"/>
<line x1="91.4" y1="385.2" x2="91.4" y2="410.1" stroke="#000" stroke-width="1.15"/>
<line x1="143.8" y1="385.2" x2="143.8" y2="410.1" stroke="#000" stroke-width="1.15"/>
<line x1="65.4" y1="385.2" x2="65.4" y2="393.2" stroke="#000" stroke-width="1.15"/>
<line x1="118.2" y1="385.2" x2="118.2" y2="393.2" stroke="#000" stroke-width="1.15"/>
<text x="14.9" y="362.6" font-size="7.9" text-anchor="middle" transform="rotate(-90 14.9 362.6)" textLength="24.2" lengthAdjust="spacingAndGlyphs" class="yl">% input</text>
<rect x="44.95" y="385.31" width="7.7" height="-0.11" fill="#4d556a" stroke="#3c4355" stroke-width="0.5"/>
<rect x="53.15" y="384.89" width="7.7" height="0.31" fill="#a6032c" stroke="#85001f" stroke-width="0.5"/>
<line x1="57" y1="383.8" x2="57" y2="385.2" stroke="#111" stroke-width="0.95"/>
<line x1="55.5" y1="383.8" x2="58.5" y2="383.8" stroke="#111" stroke-width="0.95"/>
<line x1="55.5" y1="385.2" x2="58.5" y2="385.2" stroke="#111" stroke-width="0.95"/>
<line x1="52.9" y1="385.2" x2="52.9" y2="387.6" stroke="#000" stroke-width="1.15"/>
<text x="55.5" y="396.2" font-size="8.2" text-anchor="end" transform="rotate(-43 55.5 396.2)">IgG</text>
<rect x="71.35" y="372.29" width="7.7" height="12.91" fill="#4d556a" stroke="#3c4355" stroke-width="0.5"/>
<rect x="79.55" y="354.37" width="7.7" height="30.83" fill="#a6032c" stroke="#85001f" stroke-width="0.5"/>
<line x1="75.2" y1="367.84" x2="75.2" y2="376.24" stroke="#111" stroke-width="0.95"/>
<line x1="73.7" y1="367.84" x2="76.7" y2="367.84" stroke="#111" stroke-width="0.95"/>
<line x1="73.7" y1="376.24" x2="76.7" y2="376.24" stroke="#111" stroke-width="0.95"/>
<line x1="83.4" y1="346.56" x2="83.4" y2="361.4" stroke="#111" stroke-width="0.95"/>
<line x1="81.9" y1="346.56" x2="84.9" y2="346.56" stroke="#111" stroke-width="0.95"/>
<line x1="81.9" y1="361.4" x2="84.9" y2="361.4" stroke="#111" stroke-width="0.95"/>
<line x1="79.3" y1="385.2" x2="79.3" y2="387.6" stroke="#000" stroke-width="1.15"/>
<text x="81.9" y="396.2" font-size="8.2" text-anchor="end" transform="rotate(-43 81.9 396.2)">GATA1</text>
<rect x="97.35" y="384.33" width="7.7" height="0.87" fill="#4d556a" stroke="#3c4355" stroke-width="0.5"/>
<rect x="105.55" y="383.49" width="7.7" height="1.71" fill="#a6032c" stroke="#85001f" stroke-width="0.5"/>
<line x1="101.2" y1="382.4" x2="101.2" y2="385.2" stroke="#111" stroke-width="0.95"/>
<line x1="99.7" y1="382.4" x2="102.7" y2="382.4" stroke="#111" stroke-width="0.95"/>
<line x1="99.7" y1="385.2" x2="102.7" y2="385.2" stroke="#111" stroke-width="0.95"/>
<line x1="109.4" y1="381.56" x2="109.4" y2="384.64" stroke="#111" stroke-width="0.95"/>
<line x1="107.9" y1="381.56" x2="110.9" y2="381.56" stroke="#111" stroke-width="0.95"/>
<line x1="107.9" y1="384.64" x2="110.9" y2="384.64" stroke="#111" stroke-width="0.95"/>
<line x1="105.3" y1="385.2" x2="105.3" y2="387.6" stroke="#000" stroke-width="1.15"/>
<text x="107.9" y="396.2" font-size="8.2" text-anchor="end" transform="rotate(-43 107.9 396.2)">IgG</text>
<rect x="123.35" y="379.01" width="7.7" height="6.19" fill="#4d556a" stroke="#3c4355" stroke-width="0.5"/>
<rect x="131.55" y="375.37" width="7.7" height="9.83" fill="#a6032c" stroke="#85001f" stroke-width="0.5"/>
<line x1="127.2" y1="377.92" x2="127.2" y2="379.88" stroke="#111" stroke-width="0.95"/>
<line x1="125.7" y1="377.92" x2="128.7" y2="377.92" stroke="#111" stroke-width="0.95"/>
<line x1="125.7" y1="379.88" x2="128.7" y2="379.88" stroke="#111" stroke-width="0.95"/>
<line x1="135.4" y1="372.04" x2="135.4" y2="378.2" stroke="#111" stroke-width="0.95"/>
<line x1="133.9" y1="372.04" x2="136.9" y2="372.04" stroke="#111" stroke-width="0.95"/>
<line x1="133.9" y1="378.2" x2="136.9" y2="378.2" stroke="#111" stroke-width="0.95"/>
<line x1="131.3" y1="385.2" x2="131.3" y2="387.6" stroke="#000" stroke-width="1.15"/>
<text x="133.9" y="396.2" font-size="8.2" text-anchor="end" transform="rotate(-43 133.9 396.2)">GATA1</text>
<circle cx="46.2" cy="385" r="1.2" fill="#000"/>
<circle cx="48.8" cy="385" r="1.2" fill="#000"/>
<circle cx="51.4" cy="385" r="1.2" fill="#000"/>
<circle cx="54.4" cy="385" r="1.2" fill="#000"/>
<circle cx="57" cy="383.6" r="1.2" fill="#000"/>
<circle cx="59.6" cy="385" r="1.2" fill="#000"/>
<circle cx="75.1" cy="373.04" r="1.2" fill="#000"/>
<circle cx="75.2" cy="370.04" r="1.2" fill="#000"/>
<circle cx="75.3" cy="375.04" r="1.2" fill="#000"/>
<circle cx="80.2" cy="357.62" r="1.2" fill="#000"/>
<circle cx="83.4" cy="359.12" r="1.2" fill="#000"/>
<circle cx="86.6" cy="357.62" r="1.2" fill="#000"/>
<circle cx="98.8" cy="384.5" r="1.2" fill="#000"/>
<circle cx="101.2" cy="383.5" r="1.2" fill="#000"/>
<circle cx="103.6" cy="384.5" r="1.2" fill="#000"/>
<circle cx="107" cy="384.5" r="1.2" fill="#000"/>
<circle cx="109.4" cy="382.5" r="1.2" fill="#000"/>
<circle cx="111.8" cy="384" r="1.2" fill="#000"/>
<circle cx="124.8" cy="379.76" r="1.2" fill="#000"/>
<circle cx="127.2" cy="379.76" r="1.2" fill="#000"/>
<circle cx="129.6" cy="380.26" r="1.2" fill="#000"/>
<circle cx="133" cy="376.12" r="1.2" fill="#000"/>
<circle cx="135.4" cy="377.62" r="1.2" fill="#000"/>
<circle cx="137.8" cy="376.12" r="1.2" fill="#000"/>
<text x="51.89" y="425.1" font-size="8.2" font-style="italic" textLength="27.22" lengthAdjust="spacingAndGlyphs">ALAS2</text>
<text x="48.2" y="435.5" font-size="8" textLength="34" lengthAdjust="spacingAndGlyphs">enhancer</text>
<text x="104.19" y="425.1" font-size="8.2" font-style="italic" textLength="27.22" lengthAdjust="spacingAndGlyphs">GLUT1</text>
<text x="100.8" y="435.5" font-size="8" textLength="34.1" lengthAdjust="spacingAndGlyphs">enhancer</text>
<path d="M73.8,363.9 V340.3 H83.5 V343.5" stroke="#000" stroke-width="0.95" fill="none"/>
<circle cx="78.2" cy="335" r="0.9" fill="#000"/>
<text x="80.2" y="336.7" font-size="8" textLength="31.2" lengthAdjust="spacingAndGlyphs">p=0.028</text>
<path d="M126.3,375 V368.4 H135.6 V371" stroke="#000" stroke-width="0.95" fill="none"/>
<circle cx="131.3" cy="364.8" r="0.95" fill="#000"/>
<text x="117.2" y="360.5" font-size="8" textLength="29.7" lengthAdjust="spacingAndGlyphs">p=0.048</text>
<text x="164.28" y="300.1" font-size="12.3" font-weight="bold" textLength="8.53" lengthAdjust="spacingAndGlyphs" fill="#000">E</text>
<line x1="196.6" y1="326.6" x2="196.6" y2="385" stroke="#000" stroke-width="1.15"/>
<line x1="193.8" y1="384.7" x2="196.6" y2="384.7" stroke="#000" stroke-width="1.15"/>
<text x="190.6" y="387.54" font-size="7.9" text-anchor="end">0</text>
<line x1="193.8" y1="360.65" x2="196.6" y2="360.65" stroke="#000" stroke-width="1.15"/>
<text x="190.6" y="363.49" font-size="7.9" text-anchor="end">0.5</text>
<line x1="193.8" y1="336.6" x2="196.6" y2="336.6" stroke="#000" stroke-width="1.15"/>
<text x="190.6" y="339.44" font-size="7.9" text-anchor="end">1</text>
<line x1="194.8" y1="372.68" x2="196.6" y2="372.68" stroke="#000" stroke-width="1.15"/>
<line x1="194.8" y1="348.62" x2="196.6" y2="348.62" stroke="#000" stroke-width="1.15"/>
<line x1="196.2" y1="384.8" x2="244.8" y2="384.8" stroke="#000" stroke-width="1.1"/>
<line x1="196.6" y1="384.8" x2="196.6" y2="387.5" stroke="#000" stroke-width="1.15"/>
<line x1="219" y1="384.8" x2="219" y2="387.5" stroke="#000" stroke-width="1.15"/>
<line x1="241.4" y1="384.8" x2="241.4" y2="387.5" stroke="#000" stroke-width="1.15"/>
<rect x="203.65" y="337.09" width="12.2" height="47.71" fill="#4d556a" stroke="#3c4355" stroke-width="0.5"/>
<rect x="222.55" y="334.44" width="12.6" height="50.36" fill="#a6032c" stroke="#85001f" stroke-width="0.5"/>
<circle cx="204.7" cy="337.6" r="1.2" fill="#000"/>
<circle cx="209.8" cy="335.7" r="1.2" fill="#000"/>
<circle cx="214.9" cy="336.5" r="1.2" fill="#000"/>
<circle cx="223.7" cy="334.9" r="1.2" fill="#000"/>
<circle cx="228.8" cy="333.8" r="1.2" fill="#000"/>
<circle cx="233.9" cy="334.2" r="1.2" fill="#000"/>
<path d="M209.6,333.8 V325.4 H230.8 V329.2" stroke="#000" stroke-width="0.95" fill="none"/>
<circle cx="214.9" cy="318.3" r="0.8" fill="#000"/>
<text x="217.8" y="320.3" font-size="8" textLength="30.4" lengthAdjust="spacingAndGlyphs">p=0.029</text>
<text x="202.29" y="398.9" font-size="8.2" textLength="12.02" lengthAdjust="spacingAndGlyphs">ctrl</text>
<text x="218.19" y="398.9" font-size="8.2" textLength="29.12" lengthAdjust="spacingAndGlyphs">CEBPA</text>
<text x="226.79" y="409.1" font-size="8.2" textLength="11.62" lengthAdjust="spacingAndGlyphs">KD</text>
<text x="171.9" y="355.4" font-size="7.8" text-anchor="middle" transform="rotate(-90 171.9 355.4)" textLength="73.5" lengthAdjust="spacingAndGlyphs" class="yl">Relative glucose uptake</text>
<text x="264.28" y="300.1" font-size="12.3" font-weight="bold" textLength="10.53" lengthAdjust="spacingAndGlyphs" fill="#000">G</text>
<line x1="297.5" y1="306.3" x2="297.5" y2="410.1" stroke="#000" stroke-width="1.15"/>
<line x1="294.7" y1="385.1" x2="297.5" y2="385.1" stroke="#000" stroke-width="1.15"/>
<text x="291.5" y="387.98" font-size="8" text-anchor="end">0</text>
<line x1="294.7" y1="366.24" x2="297.5" y2="366.24" stroke="#000" stroke-width="1.15"/>
<text x="291.5" y="369.12" font-size="8" text-anchor="end">0.2</text>
<line x1="294.7" y1="347.38" x2="297.5" y2="347.38" stroke="#000" stroke-width="1.15"/>
<text x="291.5" y="350.26" font-size="8" text-anchor="end">0.4</text>
<line x1="294.7" y1="328.52" x2="297.5" y2="328.52" stroke="#000" stroke-width="1.15"/>
<text x="291.5" y="331.4" font-size="8" text-anchor="end">0.6</text>
<line x1="294.7" y1="309.66" x2="297.5" y2="309.66" stroke="#000" stroke-width="1.15"/>
<text x="291.5" y="312.54" font-size="8" text-anchor="end">0.8</text>
<line x1="297" y1="385.2" x2="414.6" y2="385.2" stroke="#000" stroke-width="1.1"/>
<line x1="353.8" y1="385.2" x2="353.8" y2="410.1" stroke="#000" stroke-width="1.15"/>
<line x1="411.4" y1="385.2" x2="411.4" y2="410.1" stroke="#000" stroke-width="1.15"/>
<line x1="326" y1="385.2" x2="326" y2="394.5" stroke="#000" stroke-width="1.15"/>
<line x1="383.8" y1="385.2" x2="383.8" y2="394.5" stroke="#000" stroke-width="1.15"/>
<text x="272.4" y="345.2" font-size="7.9" text-anchor="middle" transform="rotate(-90 272.4 345.2)" textLength="25.7" lengthAdjust="spacingAndGlyphs" class="yl">% input</text>
<rect x="301.8" y="384.41" width="6.2" height="0.79" fill="#4d556a" stroke="#3c4355" stroke-width="0.5"/>
<rect x="308.5" y="384.88" width="6.2" height="0.32" fill="#68ade3" stroke="#4f93c8" stroke-width="0.5"/>
<rect x="315.2" y="384.6" width="6.2" height="0.6" fill="#a6032c" stroke="#85001f" stroke-width="0.5"/>
<circle cx="303" cy="384.66" r="1.2" fill="#000"/>
<circle cx="304.9" cy="383.66" r="1.2" fill="#000"/>
<circle cx="306.8" cy="384.96" r="1.2" fill="#000"/>
<circle cx="309.7" cy="385.13" r="1.2" fill="#000"/>
<circle cx="311.6" cy="384.13" r="1.2" fill="#000"/>
<circle cx="313.5" cy="385.43" r="1.2" fill="#000"/>
<circle cx="316.4" cy="384.85" r="1.2" fill="#000"/>
<circle cx="318.3" cy="383.85" r="1.2" fill="#000"/>
<circle cx="320.2" cy="385.15" r="1.2" fill="#000"/>
<line x1="311.6" y1="385.2" x2="311.6" y2="387.6" stroke="#000" stroke-width="1.15"/>
<text x="314.2" y="396.2" font-size="8.2" text-anchor="end" transform="rotate(-43 314.2 396.2)">IgG</text>
<rect x="330.2" y="330.18" width="6.2" height="55.02" fill="#4d556a" stroke="#3c4355" stroke-width="0.5"/>
<rect x="336.9" y="376.86" width="6.2" height="8.34" fill="#68ade3" stroke="#4f93c8" stroke-width="0.5"/>
<rect x="343.6" y="367.43" width="6.2" height="17.77" fill="#a6032c" stroke="#85001f" stroke-width="0.5"/>
<line x1="333.3" y1="326.63" x2="333.3" y2="332.29" stroke="#111" stroke-width="0.95"/>
<line x1="332" y1="326.63" x2="334.6" y2="326.63" stroke="#111" stroke-width="0.95"/>
<line x1="332" y1="332.29" x2="334.6" y2="332.29" stroke="#111" stroke-width="0.95"/>
<line x1="340" y1="372.84" x2="340" y2="378.5" stroke="#111" stroke-width="0.95"/>
<line x1="338.7" y1="372.84" x2="341.3" y2="372.84" stroke="#111" stroke-width="0.95"/>
<line x1="338.7" y1="378.5" x2="341.3" y2="378.5" stroke="#111" stroke-width="0.95"/>
<line x1="346.7" y1="363.41" x2="346.7" y2="370.01" stroke="#111" stroke-width="0.95"/>
<line x1="345.4" y1="363.41" x2="348" y2="363.41" stroke="#111" stroke-width="0.95"/>
<line x1="345.4" y1="370.01" x2="348" y2="370.01" stroke="#111" stroke-width="0.95"/>
<circle cx="331.4" cy="330.43" r="1.2" fill="#000"/>
<circle cx="333.3" cy="329.43" r="1.2" fill="#000"/>
<circle cx="335.2" cy="330.73" r="1.2" fill="#000"/>
<circle cx="338.1" cy="377.11" r="1.2" fill="#000"/>
<circle cx="340" cy="376.11" r="1.2" fill="#000"/>
<circle cx="341.9" cy="377.41" r="1.2" fill="#000"/>
<circle cx="344.8" cy="367.68" r="1.2" fill="#000"/>
<circle cx="346.7" cy="366.68" r="1.2" fill="#000"/>
<circle cx="348.6" cy="367.98" r="1.2" fill="#000"/>
<line x1="340" y1="385.2" x2="340" y2="387.6" stroke="#000" stroke-width="1.15"/>
<text x="342.6" y="396.2" font-size="8.2" text-anchor="end" transform="rotate(-43 342.6 396.2)">GATA1</text>
<rect x="357.7" y="382.52" width="6.2" height="2.68" fill="#4d556a" stroke="#3c4355" stroke-width="0.5"/>
<rect x="364.4" y="382.52" width="6.2" height="2.68" fill="#68ade3" stroke="#4f93c8" stroke-width="0.5"/>
<rect x="371.1" y="381.58" width="6.2" height="3.62" fill="#a6032c" stroke="#85001f" stroke-width="0.5"/>
<line x1="360.8" y1="379.44" x2="360.8" y2="385.1" stroke="#111" stroke-width="0.95"/>
<line x1="359.5" y1="379.44" x2="362.1" y2="379.44" stroke="#111" stroke-width="0.95"/>
<line x1="359.5" y1="385.1" x2="362.1" y2="385.1" stroke="#111" stroke-width="0.95"/>
<line x1="367.5" y1="378.5" x2="367.5" y2="385.1" stroke="#111" stroke-width="0.95"/>
<line x1="366.2" y1="378.5" x2="368.8" y2="378.5" stroke="#111" stroke-width="0.95"/>
<line x1="366.2" y1="385.1" x2="368.8" y2="385.1" stroke="#111" stroke-width="0.95"/>
<line x1="374.2" y1="375.67" x2="374.2" y2="385.1" stroke="#111" stroke-width="0.95"/>
<line x1="372.9" y1="375.67" x2="375.5" y2="375.67" stroke="#111" stroke-width="0.95"/>
<line x1="372.9" y1="385.1" x2="375.5" y2="385.1" stroke="#111" stroke-width="0.95"/>
<circle cx="358.9" cy="382.77" r="1.2" fill="#000"/>
<circle cx="360.8" cy="381.77" r="1.2" fill="#000"/>
<circle cx="362.7" cy="383.07" r="1.2" fill="#000"/>
<circle cx="365.6" cy="382.77" r="1.2" fill="#000"/>
<circle cx="367.5" cy="381.77" r="1.2" fill="#000"/>
<circle cx="369.4" cy="383.07" r="1.2" fill="#000"/>
<circle cx="372.3" cy="381.83" r="1.2" fill="#000"/>
<circle cx="374.2" cy="380.83" r="1.2" fill="#000"/>
<circle cx="376.1" cy="382.13" r="1.2" fill="#000"/>
<line x1="367.5" y1="385.2" x2="367.5" y2="387.6" stroke="#000" stroke-width="1.15"/>
<text x="370.1" y="396.2" font-size="8.2" text-anchor="end" transform="rotate(-43 370.1 396.2)">IgG</text>
<rect x="387.2" y="373.09" width="6.2" height="12.11" fill="#4d556a" stroke="#3c4355" stroke-width="0.5"/>
<rect x="393.9" y="378.75" width="6.2" height="6.45" fill="#68ade3" stroke="#4f93c8" stroke-width="0.5"/>
<rect x="400.6" y="376.86" width="6.2" height="8.34" fill="#a6032c" stroke="#85001f" stroke-width="0.5"/>
<line x1="390.3" y1="371.9" x2="390.3" y2="374.73" stroke="#111" stroke-width="0.95"/>
<line x1="389" y1="371.9" x2="391.6" y2="371.9" stroke="#111" stroke-width="0.95"/>
<line x1="389" y1="374.73" x2="391.6" y2="374.73" stroke="#111" stroke-width="0.95"/>
<line x1="397" y1="376.61" x2="397" y2="380.39" stroke="#111" stroke-width="0.95"/>
<line x1="395.7" y1="376.61" x2="398.3" y2="376.61" stroke="#111" stroke-width="0.95"/>
<line x1="395.7" y1="380.39" x2="398.3" y2="380.39" stroke="#111" stroke-width="0.95"/>
<line x1="403.7" y1="373.78" x2="403.7" y2="377.56" stroke="#111" stroke-width="0.95"/>
<line x1="402.4" y1="373.78" x2="405" y2="373.78" stroke="#111" stroke-width="0.95"/>
<line x1="402.4" y1="377.56" x2="405" y2="377.56" stroke="#111" stroke-width="0.95"/>
<circle cx="388.4" cy="373.34" r="1.2" fill="#000"/>
<circle cx="390.3" cy="372.34" r="1.2" fill="#000"/>
<circle cx="392.2" cy="373.64" r="1.2" fill="#000"/>
<circle cx="395.1" cy="379" r="1.2" fill="#000"/>
<circle cx="397" cy="378" r="1.2" fill="#000"/>
<circle cx="398.9" cy="379.3" r="1.2" fill="#000"/>
<circle cx="401.8" cy="377.11" r="1.2" fill="#000"/>
<circle cx="403.7" cy="376.11" r="1.2" fill="#000"/>
<circle cx="405.6" cy="377.41" r="1.2" fill="#000"/>
<line x1="397" y1="385.2" x2="397" y2="387.6" stroke="#000" stroke-width="1.15"/>
<text x="399.6" y="396.2" font-size="8.2" text-anchor="end" transform="rotate(-43 399.6 396.2)">GATA1</text>
<text x="312.69" y="425.2" font-size="8.2" font-style="italic" textLength="26.82" lengthAdjust="spacingAndGlyphs">ALAS2</text>
<text x="308.5" y="435.4" font-size="8" textLength="34.2" lengthAdjust="spacingAndGlyphs">enhancer</text>
<text x="371.09" y="425.2" font-size="8.2" font-style="italic" textLength="27.02" lengthAdjust="spacingAndGlyphs">GLUT1</text>
<text x="367.7" y="435.4" font-size="8" textLength="33.8" lengthAdjust="spacingAndGlyphs">enhancer</text>
<path d="M333.1,324.5 V314.6 H339.2 V374" stroke="#000" stroke-width="0.95" fill="none"/>
<circle cx="336" cy="310.4" r="0.95" fill="#000"/>
<path d="M341.9,371 V349 H348.1 V358.3" stroke="#000" stroke-width="0.95" fill="none"/>
<circle cx="345" cy="344.4" r="0.95" fill="#000"/>
<path d="M391.7,370 V358.7 H397.6 V375" stroke="#000" stroke-width="0.95" fill="none"/>
<circle cx="394.6" cy="354.8" r="0.95" fill="#000"/>
<text x="431.19" y="300.1" font-size="12.3" font-weight="bold" textLength="9.13" lengthAdjust="spacingAndGlyphs" fill="#000">H</text>
<line x1="463.8" y1="326.8" x2="463.8" y2="385" stroke="#000" stroke-width="1.15"/>
<line x1="461" y1="384.7" x2="463.8" y2="384.7" stroke="#000" stroke-width="1.15"/>
<text x="457.8" y="387.62" font-size="8.1" text-anchor="end">0</text>
<line x1="461" y1="360.65" x2="463.8" y2="360.65" stroke="#000" stroke-width="1.15"/>
<text x="457.8" y="363.57" font-size="8.1" text-anchor="end">0.5</text>
<line x1="461" y1="336.6" x2="463.8" y2="336.6" stroke="#000" stroke-width="1.15"/>
<text x="457.8" y="339.52" font-size="8.1" text-anchor="end">1</text>
<line x1="462" y1="372.68" x2="463.8" y2="372.68" stroke="#000" stroke-width="1.15"/>
<line x1="462" y1="348.62" x2="463.8" y2="348.62" stroke="#000" stroke-width="1.15"/>
<line x1="463.4" y1="384.8" x2="512.1" y2="384.8" stroke="#000" stroke-width="1.1"/>
<line x1="463.8" y1="384.8" x2="463.8" y2="387.5" stroke="#000" stroke-width="1.15"/>
<line x1="486.6" y1="384.8" x2="486.6" y2="387.5" stroke="#000" stroke-width="1.15"/>
<line x1="510.4" y1="384.8" x2="510.4" y2="387.5" stroke="#000" stroke-width="1.15"/>
<rect x="468.75" y="336.65" width="8.7" height="48.15" fill="#4d556a" stroke="#3c4355" stroke-width="0.5"/>
<rect x="482.45" y="343.55" width="8.6" height="41.25" fill="#68ade3" stroke="#4f93c8" stroke-width="0.5"/>
<rect x="496.25" y="339.55" width="8.5" height="45.25" fill="#a6032c" stroke="#85001f" stroke-width="0.5"/>
<circle cx="469.7" cy="337" r="1.2" fill="#000"/>
<circle cx="473.1" cy="335.5" r="1.2" fill="#000"/>
<circle cx="476.5" cy="336" r="1.2" fill="#000"/>
<circle cx="483.3" cy="343.5" r="1.2" fill="#000"/>
<circle cx="486.7" cy="342.5" r="1.2" fill="#000"/>
<circle cx="490.1" cy="343.2" r="1.2" fill="#000"/>
<circle cx="497.1" cy="339.5" r="1.2" fill="#000"/>
<circle cx="500.5" cy="338.5" r="1.2" fill="#000"/>
<circle cx="503.9" cy="339.2" r="1.2" fill="#000"/>
<path d="M472.2,331 V329 H485.8 V338.5" stroke="#000" stroke-width="0.95" fill="none"/>
<circle cx="479.3" cy="324.3" r="0.95" fill="#000"/>
<path d="M488,338.5 V329 H500.8 V334" stroke="#000" stroke-width="0.95" fill="none"/>
<circle cx="494.7" cy="324.3" r="0.95" fill="#000"/>
<text x="476.2" y="395.6" font-size="8.7" text-anchor="end" transform="rotate(-45 476.2 395.6)">ctrl</text>
<text x="489.9" y="395.6" font-size="8.7" text-anchor="end" transform="rotate(-45 489.9 395.6)">S2101</text>
<text x="503.8" y="395.6" font-size="8.7" text-anchor="end" transform="rotate(-45 503.8 395.6)">S2101+CEBPA KD</text>
<text x="439.1" y="355.4" font-size="7.8" text-anchor="middle" transform="rotate(-90 439.1 355.4)" textLength="73.5" lengthAdjust="spacingAndGlyphs" class="yl">Relative glucose uptake</text>
</g>
<path d="M0.55,0 V456 M0,0.55 H520" stroke="#000" stroke-width="1.2" fill="none"/>
<path d="M519.25,0 V456 M0,455.25 H520" stroke="#000" stroke-width="1.5" fill="none"/>
</svg>
</body></html>
